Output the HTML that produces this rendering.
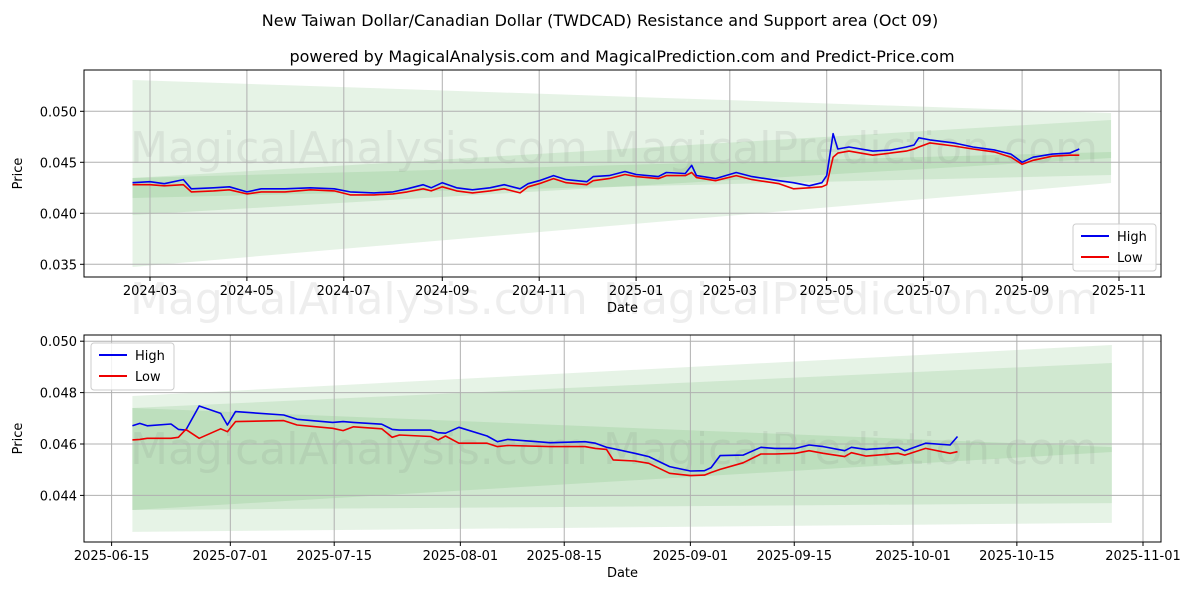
<!DOCTYPE html>
<html><head><meta charset="utf-8"><style>
body{margin:0;background:#fff;}
svg{display:block;font-family:"DejaVu Sans","Liberation Sans",sans-serif;}
</style></head><body>
<svg id="chart" width="1200" height="600" viewBox="0 0 1200 600" xmlns="http://www.w3.org/2000/svg">
<rect width="1200" height="600" fill="#fff"/>
<text x="600" y="26" text-anchor="middle" font-size="16">New Taiwan Dollar/Canadian Dollar (TWDCAD) Resistance and Support area (Oct 09)</text>
<text x="622" y="62" text-anchor="middle" font-size="16">powered by MagicalAnalysis.com and MagicalPrediction.com and Predict-Price.com</text>
<g id="top"></g>
<g id="bot"></g>
</svg>
<script>
// ---- top chart data ----
const topDates=["2024-02-19","2024-03-01","2024-03-10","2024-03-22","2024-03-27","2024-04-10","2024-04-20","2024-05-01","2024-05-10","2024-05-25","2024-06-10","2024-06-25","2024-07-05","2024-07-20","2024-08-01","2024-08-10","2024-08-20","2024-08-25","2024-09-01","2024-09-10","2024-09-20","2024-10-01","2024-10-10","2024-10-20","2024-10-25","2024-11-01","2024-11-10","2024-11-18","2024-12-01","2024-12-05","2024-12-15","2024-12-25","2025-01-01","2025-01-15","2025-01-20","2025-02-01","2025-02-05","2025-02-08","2025-02-20","2025-03-05","2025-03-15","2025-04-01","2025-04-10","2025-04-20","2025-04-28","2025-05-01","2025-05-05","2025-05-08","2025-05-15","2025-05-30","2025-06-10","2025-06-20","2025-06-25","2025-06-28","2025-07-05","2025-07-20","2025-08-01","2025-08-15","2025-08-25","2025-09-01","2025-09-08","2025-09-20","2025-10-01","2025-10-07"];
const topHigh=[0.0430,0.0431,0.0429,0.0433,0.0424,0.0425,0.0426,0.0421,0.0424,0.0424,0.0425,0.0424,0.0421,0.0420,0.0421,0.0424,0.0428,0.0425,0.0430,0.0425,0.0423,0.0425,0.0428,0.0424,0.0429,0.0432,0.0437,0.0433,0.0431,0.0436,0.0437,0.0441,0.0438,0.0436,0.0440,0.0439,0.0447,0.0437,0.0434,0.0440,0.0436,0.0432,0.0430,0.0427,0.0430,0.0437,0.0478,0.0463,0.0465,0.0461,0.0462,0.0465,0.0467,0.0474,0.0472,0.0469,0.0465,0.0462,0.0458,0.0450,0.0455,0.0458,0.0459,0.0463];
const topLow=[0.0428,0.0428,0.0427,0.0428,0.0421,0.0422,0.0423,0.0419,0.0421,0.0421,0.0423,0.0422,0.0418,0.0418,0.0419,0.0421,0.0424,0.0422,0.0426,0.0422,0.0420,0.0422,0.0424,0.0420,0.0426,0.0429,0.0434,0.0430,0.0428,0.0432,0.0434,0.0438,0.0436,0.0434,0.0437,0.0437,0.0440,0.0435,0.0432,0.0437,0.0433,0.0429,0.0424,0.0425,0.0426,0.0428,0.0455,0.0459,0.0461,0.0457,0.0459,0.0461,0.0463,0.0465,0.0469,0.0466,0.0463,0.0460,0.0455,0.0448,0.0452,0.0456,0.0457,0.0457];
const topBandDates=["2024-02-19","2025-10-27"];
const topBands=[[0.05307,0.04983,0.04297,0.03474],[0.04346,0.04915,0.04375,0.04150],[0.04346,0.04601,0.04542,0.03983]];
const topYTicks=[0.035,0.040,0.045,0.050];
const topXTicks=["2024-03","2024-05","2024-07","2024-09","2024-11","2025-01","2025-03","2025-05","2025-07","2025-09","2025-11"];
// ---- bottom chart data ----
const botDays=[2.8,3.8,4.8,8,9,10,11.8,14.7,15.6,16.7,23.2,25,29.8,31.2,32.6,36.4,37.8,38.8,43,44,45,46.8,50.6,52,53.4,59.1,63.8,65.2,66.7,67.6,70.5,72.4,75.2,78,79.9,80.8,82,85.1,87.5,89.4,92.2,94,95.9,98.8,99.7,101.7,106,106.9,109.7,113,114];
const botHigh=[0.04671,0.04680,0.04671,0.04678,0.04657,0.04654,0.04748,0.04719,0.04674,0.04726,0.04713,0.04696,0.04684,0.04687,0.04684,0.04677,0.04657,0.04654,0.04654,0.04644,0.04642,0.04665,0.04631,0.04609,0.04618,0.04605,0.04609,0.04603,0.04587,0.04582,0.04564,0.04551,0.04512,0.04495,0.04496,0.04508,0.04555,0.04557,0.04587,0.04583,0.04583,0.04596,0.04590,0.04574,0.04587,0.04579,0.04587,0.04574,0.04603,0.04596,0.04629];
const botLow=[0.04616,0.04618,0.04622,0.04622,0.04626,0.04657,0.04622,0.04659,0.04648,0.04687,0.04691,0.04674,0.04661,0.04652,0.04667,0.04659,0.04626,0.04635,0.04629,0.04616,0.04631,0.04603,0.04603,0.04590,0.04594,0.04590,0.04590,0.04583,0.04579,0.04538,0.04534,0.04525,0.04486,0.04477,0.04479,0.04489,0.04501,0.04527,0.04561,0.04561,0.04564,0.04574,0.04564,0.04551,0.04566,0.04553,0.04564,0.04557,0.04583,0.04564,0.04570];
const botBandDays=[2.8,134.8];
const botBands=[[0.04787,0.04985,0.04293,0.04258],[0.0474,0.04915,0.0437,0.04343],[0.0474,0.04588,0.04569,0.04343]];
const botYTicks=[0.044,0.046,0.048,0.050];
const botXTicks=["2025-06-15","2025-07-01","2025-07-15","2025-08-01","2025-08-15","2025-09-01","2025-09-15","2025-10-01","2025-10-15","2025-11-01"];

const NS="http://www.w3.org/2000/svg";
function el(p,t,a,txt){const e=document.createElementNS(NS,t);for(const k in a)e.setAttribute(k,a[k]);if(txt!==undefined)e.textContent=txt;p.appendChild(e);return e;}
const dayMs=86400000;
function d(s){const p=s.split("-").map(Number);return Date.UTC(p[0],p[1]-1,p[2]||1)/dayMs;}

function drawPanel(g,cfg){
  const {L,R,T,B,x,y}=cfg;
  // bands
  cfg.bands.forEach((b,i)=>{
    const x0=x(cfg.bandX[0]),x1=x(cfg.bandX[1]);
    const p=el(g,"polygon",{points:`${x0},${y(b[0])} ${x1},${y(b[1])} ${x1},${y(b[2])} ${x0},${y(b[3])}`,fill:"rgba(60,160,60,0.13)"});
    
    
  });
  // watermarks
  cfg.marks.forEach(m=>{const t=el(g,"text",{x:m[0],y:m[1],"font-size":44,fill:"rgba(120,120,120,0.13)"},m[2]);
    
    });
  // grid
  cfg.xt.forEach(t=>{const xx=x(t.v);
    const gl=el(g,"line",{x1:xx,x2:xx,y1:T,y2:B,stroke:"#b0b0b0","stroke-width":1});
    
    
    el(g,"line",{x1:xx,x2:xx,y1:B,y2:B+4,stroke:"#000"});
    const tl=el(g,"text",{x:xx,y:B+18,"text-anchor":"middle","font-size":13},t.l);
    
    });
  cfg.yt.forEach(v=>{const yy=y(v);
    const gl=el(g,"line",{x1:L,x2:R,y1:yy,y2:yy,stroke:"#b0b0b0","stroke-width":1});
    
    
    el(g,"line",{x1:L-4,x2:L,y1:yy,y2:yy,stroke:"#000"});
    const tl=el(g,"text",{x:L-7,y:yy+5,"text-anchor":"end","font-size":13},v.toFixed(3));
    
    });
  // series
  [[cfg.hi,"#0000ee","high-line"],[cfg.lo,"#ee0000","low-line"]].forEach(s=>{
    const pts=cfg.xs.map((xv,i)=>x(xv).toFixed(1)+","+y(s[0][i]).toFixed(1)).join(" ");
    const pl=el(g,"polyline",{points:pts,fill:"none",stroke:s[1],"stroke-width":1.6,"stroke-linejoin":"round"});
    
    
  });
  const fr=el(g,"rect",{x:L,y:T,width:R-L,height:B-T,fill:"none",stroke:"#000","stroke-width":1});
  
  
  const xl=el(g,"text",{x:(L+R)/2,y:B+35,"text-anchor":"middle","font-size":13},"Date");
  
  
  const yl=el(g,"text",{x:0,y:0,transform:`translate(${L-62},${(T+B)/2}) rotate(-90)`,"text-anchor":"middle","font-size":13},"Price");
  
  
  // legend
  const lg=el(g,"g",{});
  
  
  const [lx,ly]=cfg.leg;
  el(lg,"rect",{x:lx,y:ly,width:83,height:47,rx:3,fill:"rgba(255,255,255,0.85)",stroke:"#ccc"});
  el(lg,"line",{x1:lx+8,x2:lx+36,y1:ly+12,y2:ly+12,stroke:"#0000ee","stroke-width":2});
  const t1=el(lg,"text",{x:lx+44,y:ly+17,"font-size":13},"High");
  
  
  el(lg,"line",{x1:lx+8,x2:lx+36,y1:ly+33,y2:ly+33,stroke:"#ee0000","stroke-width":2});
  const t2=el(lg,"text",{x:lx+44,y:ly+38,"font-size":13},"Low");
  
  
}
// top panel
(function(){
  const L=84,R=1161,T=70,B=277;
  const x0=d("2024-03-01"),ppd=969/610;
  const x=v=>150+(v-x0)*ppd;
  const y=v=>162.3-(v-0.045)*10200;
  drawPanel(document.getElementById("top"),{L,R,T,B,x,y,
    bands:topBands,bandX:topBandDates.map(d),
    marks:[[130,163,"MagicalAnalysis.com"],[603,163,"MagicalPrediction.com"],[130,314,"MagicalAnalysis.com"],[603,314,"MagicalPrediction.com"]],
    xt:topXTicks.map(s=>({v:d(s),l:s})),yt:topYTicks,
    xs:topDates.map(d),hi:topHigh,lo:topLow,leg:[1073,224]});
})();
// bottom panel
(function(){
  const L=84,R=1161,T=335,B=542;
  const base=d("2025-06-15"),ppd=(1143-111.6)/139;
  const x=v=>111.6+v*ppd;
  const y=v=>444-(v-0.046)*25700;
  drawPanel(document.getElementById("bot"),{L,R,T,B,x,y,
    bands:botBands,bandX:botBandDays,
    marks:[[130,464,"MagicalAnalysis.com"],[603,464,"MagicalPrediction.com"]],
    xt:botXTicks.map(s=>({v:d(s)-base,l:s})),yt:botYTicks,
    xs:botDays,hi:botHigh,lo:botLow,leg:[91,343]});
})();
</script>
</body></html>
